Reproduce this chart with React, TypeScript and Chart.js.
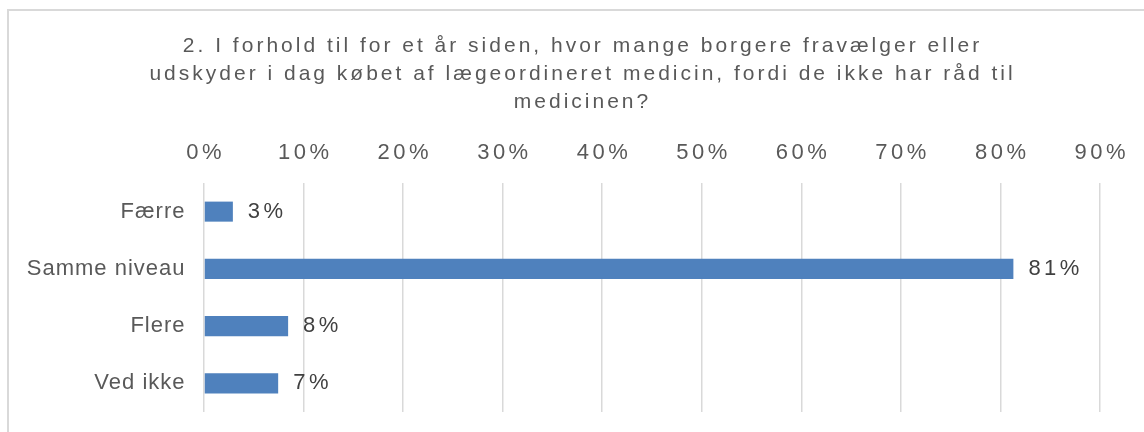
import React, { useEffect, useRef } from "react";
import { Chart, registerables } from "chart.js";

Chart.register(...registerables);

const titleLines = [
  "2. I forhold til for et år siden, hvor mange borgere fravælger eller",
  "udskyder i dag købet af lægeordineret medicin, fordi de ikke har råd til",
  "medicinen?",
];
const categories = ["Færre", "Samme niveau", "Flere", "Ved ikke"];
const values = [2.9, 81.3, 8.45, 7.45];
const axisMax = 90;
const axisStep = 10;

const FONT = "'Liberation Sans', Arial, sans-serif";

const labelPlugin = {
  id: "barLabels",
  afterDatasetsDraw(chart: any) {
    const ctx = chart.ctx;
    const meta = chart.getDatasetMeta(0);
    ctx.save();
    ctx.letterSpacing = "3.5px";
    ctx.font = `22px ${FONT}`;
    ctx.fillStyle = "#404040";
    ctx.textAlign = "left";
    ctx.textBaseline = "middle";
    meta.data.forEach((bar: any, i: number) => {
      const v = chart.data.datasets[0].data[i] as number;
      ctx.fillText(Math.round(v) + "%", bar.x + 15, bar.y);
    });
    ctx.restore();
  },
};

function withSpacing(obj: any, method: string, spacing: string, dx = 0) {
  const orig = obj[method].bind(obj);
  obj[method] = (...args: any[]) => {
    const ctx = obj.ctx || obj.chart.ctx;
    ctx.save();
    ctx.letterSpacing = spacing;
    ctx.translate(dx, 0);
    orig(...args);
    ctx.restore();
  };
}

export default function App() {
  const ref = useRef<HTMLCanvasElement | null>(null);
  useEffect(() => {
    if (!ref.current) return;
    const chart: any = new Chart(ref.current, {
      type: "bar",
      data: {
        labels: categories,
        datasets: [
          {
            data: values,
            backgroundColor: "#4F81BD",
            barPercentage: 0.35,
            categoryPercentage: 1,
          },
        ],
      },
      plugins: [labelPlugin],
      options: {
        indexAxis: "y",
        animation: false,
        responsive: false,
        maintainAspectRatio: false,
        layout: { padding: { left: 0, right: 53, top: 0, bottom: 35 } },
        plugins: {
          legend: { display: false },
          tooltip: { enabled: false },
          title: {
            display: true,
            text: titleLines,
            color: "#595959",
            font: { family: FONT, size: 21, weight: "normal", lineHeight: 28 / 21 },
            padding: { top: 21, bottom: 6.6 },
          },
        },
        scales: {
          x: {
            position: "top",
            min: 0,
            max: axisMax,
            ticks: {
              stepSize: axisStep,
              callback: (v: any) => v + "%",
              color: "#595959",
              font: { family: FONT, size: 22 },
              padding: 17,
              maxRotation: 0,
              autoSkip: false,
            },
            grid: { color: "#d9d9d9", lineWidth: 1.5, drawTicks: false },
            border: { display: false },
          },
          y: {
            ticks: {
              color: "#595959",
              font: { family: FONT, size: 22 },
              padding: 19,
            },
            grid: { display: false, drawTicks: false },
            border: { display: false },
            afterFit: (s: any) => {
              s.width = 195;
            },
          },
        },
      },
    });
    const tb = chart.titleBlock;
    if (tb) {
      const dx = chart.width / 2 - (tb.left + tb.right) / 2 + 1.5;
      withSpacing(tb, "draw", "3px", dx);
    }
    withSpacing(chart.scales.x, "drawLabels", "3.5px", 1.75);
    withSpacing(chart.scales.y, "drawLabels", "1px", 0.5);
    chart.draw();
    return () => chart.destroy();
  }, []);
  return (
    <div
      style={{
        position: "absolute",
        left: 7,
        top: 9,
        width: 1148,
        height: 440,
        border: "2px solid #d9d9d9",
        boxSizing: "border-box",
        background: "#fff",
      }}
    >
      <canvas ref={ref} width={1144} height={436} style={{ display: "block" }} />
    </div>
  );
}
